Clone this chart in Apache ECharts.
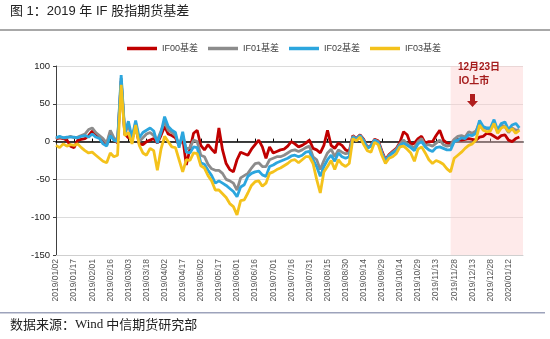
<!DOCTYPE html>
<html><head><meta charset="utf-8">
<script src="https://cdn.jsdelivr.net/npm/echarts@6/dist/echarts.min.js"></script>
<style>html,body{margin:0;padding:0;background:#fff}#c{width:550px;height:339px}</style>
</head><body><div id="c"></div>
<script>
// categories: every 3 calendar days starting 2019/01/02 (tick labels every 15 days)
var startDate = [2019, 0, 2];
var stepDays = 3;
var nCats = 130;
var categories = [];
(function(){
  var d = new Date(Date.UTC(startDate[0], startDate[1], startDate[2]));
  for (var i = 0; i < nCats; i++) {
    var t = new Date(d.getTime() + i * stepDays * 86400000);
    var m = t.getUTCMonth() + 1, dd = t.getUTCDate();
    categories.push(t.getUTCFullYear() + '/' + (m < 10 ? '0' : '') + m + '/' + (dd < 10 ? '0' : '') + dd);
  }
})();
var seriesNames = ['IF00基差', 'IF01基差', 'IF02基差', 'IF03基差'];
var if00 = [3,5,4,2,-6, -8,2,3,4,8, 14,10,6,2,-4, 12,3,-2,80,10, 5,3,20,-3,-4,
  0,2,4,-2,8, 20,10,8,5,-5, 5,-31,-10,11,15, -5,-11,-4,-10,-15, 18,-11,-29,-37,-40,
  -24,-14,-16,-18,-10, -4,2,-7,-22,-7, -15,-13,-11,-10,-6, 0,-3,-7,-5,-2,
  2,-9,-11,-15,-5, 15,-5,-9,-2,-5, -11,-13,8,4,9, 3,-8,-5,3,1,
  -12,-24,-17,-13,-9, -1,13,9,-4,-2, 4,7,-2,0,0, 8,15,2,-2,-3,
  2,3,2,3,4, 3,2,6,7,11, 10,7,4,8,9, 2,0,4,6];
var if01 = [4,6,5,5,7, 5,6,8,10,16, 18,12,8,4,-2, 15,5,0,84,10, 22,3,25,0,5,
  10,12,8,2,14, 26,15,12,8,-5, 8,-10,-8,2,0, -18,-20,-30,-36,-38, -38,-42,-50,-52,-55,
  -64,-48,-45,-42,-35, -29,-28,-33,-33,-24, -22,-20,-20,-18,-15, -12,-11,-13,-11,-8,
  -6,-20,-24,-37,-25, -15,-10,-20,-11,-14, -16,-15,7,4,8, 2,-8,-6,2,0,
  -14,-25,-18,-14,-10, -3,2,-3,-6,-8, 0,4,-5,-4,-6, -2,2,-4,-6,-5,
  3,7,8,6,13, 11,14,25,18,17, 16,24,14,22,20, 12,18,15,16];
var if02 = [5,7,5,6,6, 6,5,7,8,6, 10,6,4,-3,-6, 8,2,0,88,12, 27,5,28,5,12,
  15,18,14,-2,12, 33,20,15,12,-8, 13,-14,-15,-7,-8, -28,-30,-38,-45,-55, -52,-55,-58,-62,-66,
  -73,-60,-57,-46,-42, -40,-39,-44,-46,-33, -31,-28,-26,-24,-22, -19,-18,-20,-18,-14,
  -13,-24,-33,-46,-33, -24,-18,-26,-15,-20, -22,-20,6,3,8, 1,-9,-6,2,-1,
  -15,-26,-19,-15,-12, -5,-2,-5,-8,-12, -3,0,-7,-11,-13, -8,-7,-9,-11,-11,
  0,2,5,4,9, 8,11,28,20,18, 18,29,15,24,26, 16,22,24,18];
var if03 = [-5,-8,-3,-6,-4, -5,-3,-8,-12,-15, -14,-18,-22,-26,-28, -15,-20,-18,75,8, 12,-3,22,-5,-15,
  -18,-9,-12,-38,-10, 7,0,-7,-8,-24, -40,-24,-25,-15,-16, -32,-35,-45,-52,-64, -64,-69,-74,-82,-86,
  -97,-78,-77,-68,-58, -53,-52,-59,-55,-42, -40,-37,-35,-32,-29, -25,-24,-28,-24,-20,
  -20,-29,-50,-68,-40, -33,-25,-37,-24,-30, -33,-29,4,1,6, -4,-12,-14,-1,-4,
  -18,-29,-22,-20,-16, -7,-6,-10,-15,-26, -10,-7,-15,-24,-29, -25,-27,-30,-36,-40,
  -22,-18,-14,-9,-5, -3,2,22,15,13, 14,24,11,18,20, 13,17,11,15];
var yTicks = {min: -150, max: 100, interval: 50};
var highlightStart = 109, highlightEnd = 129;
var annotation = ['12月23日', 'IO上市'];

var colors = ['#C00000', '#8C8C8C', '#2CA6DE', '#F4C21B'];
var dataSets = [if00, if01, if02, if03];
var FONT = "'Liberation Sans', Arial, 'Noto Sans CJK SC', sans-serif";

var chart = echarts.init(document.getElementById('c'), null, {renderer: 'canvas'});
var series = dataSets.map(function(d, i){
  return {name: seriesNames[i], type: 'line', data: d, symbol: 'none', z: 2 + i,
    lineStyle: {width: 2.8, color: colors[i]}, itemStyle: {color: colors[i]}, animation: false};
});
series.push({name: 'hl', type: 'line', data: [], z: 10, silent: true, animation: false,
  markArea: {silent: true, itemStyle: {color: 'rgba(252,205,205,0.42)'},
    data: [[{xAxis: categories[highlightStart]}, {xAxis: categories[highlightEnd]}]]}});

chart.setOption({
  animation: false,
  textStyle: {fontFamily: FONT},
  grid: {left: 56, right: 27, top: 66, bottom: 84},
  legend: {data: seriesNames, top: 39, left: 122, itemWidth: 30, itemHeight: 3.5, itemGap: 10,
    icon: 'rect', textStyle: {fontSize: 9, color: '#404040', fontFamily: FONT}},
  xAxis: [
    {type: 'category', data: categories, boundaryGap: false,
      axisLine: {onZero: true, lineStyle: {color: '#000', width: 1.5}},
      axisTick: {show: true, inside: true, length: 3, interval: 4, lineStyle: {color: '#000'}},
      axisLabel: {show: false}, splitLine: {show: false}},
    {type: 'category', data: categories, boundaryGap: false, position: 'bottom',
      axisLine: {onZero: false, lineStyle: {color: '#cfcfcf', width: 1}},
      axisTick: {show: false},
      axisLabel: {interval: 4, rotate: 90, fontSize: 8.5, color: '#555', margin: 4, fontFamily: FONT},
      splitLine: {show: false}}
  ],
  yAxis: {type: 'value', min: yTicks.min, max: yTicks.max, interval: yTicks.interval,
    axisLine: {show: true, lineStyle: {color: '#404040', width: 1}},
    axisTick: {show: true, length: 3, lineStyle: {color: '#404040'}},
    axisLabel: {fontSize: 9.5, color: '#222', margin: 6, fontFamily: FONT},
    splitLine: {show: true, lineStyle: {color: '#dcdcdc', width: 1}}},
  series: series,
  graphic: [
    {type: 'text', z: 100, left: 10, top: 5, style: {text: '图 1：2019 年 IF 股指期货基差', fontSize: 13, fill: '#222', fontFamily: FONT}},
    {type: 'rect', z: 100, shape: {x: 0, y: 29, width: 550, height: 2}, style: {fill: '#a8a8a8'}},
    {type: 'rect', z: 100, shape: {x: 0, y: 312, width: 545, height: 1.5}, style: {fill: '#9da3bb'}},
    {type: 'text', z: 100, left: 10, top: 318, style: {
      rich: {a: {fontSize: 13, fill: '#222', fontFamily: "'Noto Sans CJK SC', sans-serif"},
             b: {fontSize: 13, fill: '#222', fontFamily: "'Liberation Serif', 'DejaVu Serif', serif"}},
      text: '{a|数据来源：}{b|Wind}{a| 中信期货研究部}'}},
    {type: 'text', z: 100, x: 479, y: 62, style: {text: annotation[0], fontSize: 10, fontWeight: 'bold', fill: '#A51C1C', align: 'center', fontFamily: FONT}},
    {type: 'text', z: 100, x: 474, y: 76, style: {text: annotation[1], fontSize: 10, fontWeight: 'bold', fill: '#A51C1C', align: 'center', fontFamily: FONT}},
    {type: 'polygon', z: 100, shape: {points: [[470,94],[475,94],[475,101],[478,101],[472.5,107],[467,101],[470,101]]}, style: {fill: '#B01E1E'}}
  ]
});
</script></body></html>
